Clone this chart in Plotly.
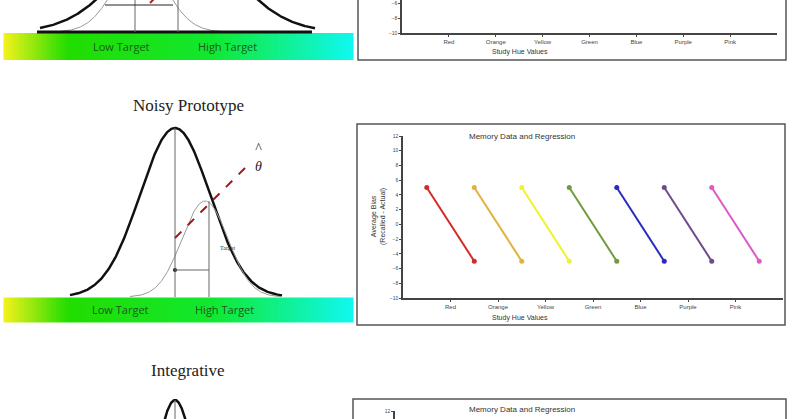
import numpy as np
import plotly.graph_objects as go

hues = ["Red", "Orange", "Yellow", "Green", "Blue", "Purple", "Pink"]
hue_pos = [1, 2, 3, 4, 5, 6, 7]
bias_low = [5, 5, 5, 5, 5, 5, 5]      # bias at left end of each regression line
bias_high = [-5, -5, -5, -5, -5, -5, -5]  # bias at right end
line_colors = ["#d42a2a", "#e3b23c", "#f2f22a", "#6f9d3c", "#2b2bbf", "#6b4c8c", "#e058c8"]
ytick_vals = [-10, -8, -6, -4, -2, 0, 2, 4, 6, 8, 10, 12]

W, H = 800, 419
FONT = "Liberation Sans, Arial"
fig = go.Figure()

def px_x(x): return x / W
def px_y(y): return 1 - y / H

def gauss(xs, c, s, base, peak):
    return base - peak * np.exp(-(xs - c) ** 2 / (2 * s ** 2))

grad_cs = [[0, "#f2f21a"], [0.18, "#22dd00"], [0.6, "#10e830"], [1, "#10f8f0"]]
for (y0, y1) in [(33, 60), (297, 323)]:
    gx = np.linspace(5, 352, 120)
    fig.add_trace(go.Heatmap(x=gx, y=[y0 + 6.75, y1 - 6.75], z=[gx, gx], colorscale=grad_cs,
                             showscale=False, hoverinfo="skip", xaxis="x3", yaxis="y3"))

xs = np.linspace(40, 315, 400)
fig.add_trace(go.Scatter(x=xs, y=gauss(xs, 177, 54, 32, 99), mode="lines",
                         line=dict(color="#111", width=2.5), xaxis="x3", yaxis="y3", hoverinfo="skip"))
xs2 = np.linspace(60, 240, 300)
fig.add_trace(go.Scatter(x=xs2, y=gauss(xs2, 140, 26, 32, 70), mode="lines",
                         line=dict(color="#999", width=1), xaxis="x3", yaxis="y3", hoverinfo="skip"))
xs = np.linspace(70, 282, 400)
fig.add_trace(go.Scatter(x=xs, y=gauss(xs, 175, 35, 297, 169), mode="lines",
                         line=dict(color="#111", width=2.5), xaxis="x3", yaxis="y3", hoverinfo="skip"))
xs2 = np.linspace(130, 282, 300)
fig.add_trace(go.Scatter(x=xs2, y=gauss(xs2, 205, 23, 297, 96), mode="lines",
                         line=dict(color="#999", width=1), xaxis="x3", yaxis="y3", hoverinfo="skip"))
xs = np.linspace(150, 200, 200)
fig.add_trace(go.Scatter(x=xs, y=gauss(xs, 175, 16, 500, 100), mode="lines",
                         line=dict(color="#111", width=2.5), xaxis="x3", yaxis="y3", hoverinfo="skip"))
fig.add_trace(go.Scatter(x=[175], y=[270], mode="markers", marker=dict(color="#111", size=4),
                         xaxis="x3", yaxis="y3", hoverinfo="skip"))

shapes = []
def pline(x0, y0, x1, y1, color="#666", width=1, dash=None):
    shapes.append(dict(type="line", xref="x3", yref="y3", x0=x0, y0=y0, x1=x1, y1=y1,
                       line=dict(color=color, width=width, dash=dash)))

pline(37, 32, 312, 32, "#111", 3)
pline(135, 0, 135, 32); pline(178, 0, 178, 32)
pline(105, 5, 173, 5, "#222", 1)
pline(150, 3, 155, -2, "#b02020", 2, "dash")
pline(175, 128, 175, 297); pline(209, 201, 209, 297); pline(175, 270, 209, 270)
pline(175, 238, 245, 168, "#a01818", 2, "dash")
pline(175, 400, 175, 419)

for (x0, y0, x1, y1) in [(358, -5, 786, 60), (357, 124, 785, 325), (353, 399, 786, 430)]:
    shapes.append(dict(type="rect", xref="paper", yref="paper", x0=px_x(x0), x1=px_x(x1),
                       y0=px_y(y1), y1=px_y(y0), line=dict(color="#555", width=1.5),
                       fillcolor="white", layer="below"))

for i, h in enumerate(hues):
    fig.add_trace(go.Scatter(x=[hue_pos[i] - 0.5, hue_pos[i] + 0.5], y=[bias_low[i], bias_high[i]],
                             mode="lines+markers", line=dict(color=line_colors[i], width=2),
                             marker=dict(color=line_colors[i], size=5), name=h,
                             xaxis="x", yaxis="y", showlegend=False))
fig.add_trace(go.Scatter(x=[0], y=[-20], mode="markers", xaxis="x2", yaxis="y2", showlegend=False))
fig.add_trace(go.Scatter(x=[0], y=[20], mode="markers", xaxis="x4", yaxis="y4", showlegend=False))

tickf = dict(size=6, color="#444", family=FONT)
def xax(domain, anchor, show_labels=True):
    return dict(domain=domain, range=[0, 8], tickvals=hue_pos, ticktext=hues,
                showticklabels=show_labels, showline=True, linecolor="#444", linewidth=1.5,
                ticks="outside", ticklen=2, tickcolor="#444", showgrid=False, zeroline=False,
                tickfont=tickf, fixedrange=True, anchor=anchor, automargin=False)
def yax(domain, rng, anchor):
    return dict(domain=domain, range=rng, tickvals=ytick_vals, showline=True, linecolor="#444",
                linewidth=1.5, ticks="outside", ticklen=2, tickcolor="#444", showgrid=False,
                zeroline=False, tickfont=dict(size=5, color="#444", family=FONT), anchor=anchor,
                automargin=False)

ann = []
def txt(x, y, s, size, color="#333", family=FONT, **kw):
    ann.append(dict(x=px_x(x), y=px_y(y), xref="paper", yref="paper", text=s, showarrow=False,
                    xanchor="center", yanchor="middle",
                    font=dict(size=size, color=color, family=family), **kw))

txt(522, 136, "Memory Data and Regression", 8)
txt(520, 318, "Study Hue Values", 7)
txt(378, 217, "Average Bias<br>(Recalled - Actual)", 7, textangle=-90)
txt(520, 52, "Study Hue Values", 7)
txt(522, 409, "Memory Data and Regression", 8)
green_txt = "#1a5a1a"
txt(121, 46, "Low Target", 11, green_txt, "Open Sans, Arial")
txt(228, 46, "High Target", 11, green_txt, "Open Sans, Arial")
txt(120, 309, "Low Target", 11, green_txt, "Open Sans, Arial")
txt(224, 309, "High Target", 11, green_txt, "Open Sans, Arial")
txt(188, 106, "Noisy Prototype", 17, "#222", "Liberation Serif, Times New Roman")
txt(188, 370, "Integrative", 17, "#222", "Liberation Serif, Times New Roman")
txt(227, 248, "Target", 6, "#333", "Liberation Serif")
txt(258, 157, "^<br><i>θ</i>", 14, "#222", "Liberation Serif")

fig.update_layout(
    width=W, height=H, margin=dict(l=0, r=0, t=0, b=0, autoexpand=False),
    paper_bgcolor="white", plot_bgcolor="rgba(0,0,0,0)", showlegend=False,
    shapes=shapes, annotations=ann,
    xaxis=xax([px_x(403), px_x(783)], "y"),
    yaxis=yax([px_y(298), px_y(136)], [-10, 12], "x"),
    xaxis2=xax([px_x(402), px_x(777)], "y2"),
    yaxis2=yax([px_y(33), 1.0], [-10, -10 + 33 / 7.4], "x2"),
    xaxis4=dict(xax([px_x(395), px_x(780)], "y4", False), showline=False, ticks=""),
    yaxis4=yax([0, px_y(411)], [12 - 8 / 7.4, 12], "x4"),
    xaxis3=dict(domain=[0, 1], range=[0, W], visible=False, fixedrange=True, anchor="y3"),
    yaxis3=dict(domain=[0, 1], range=[H, 0], visible=False, fixedrange=True, anchor="x3"),
)
fig.write_html("out.html", config={"displayModeBar": False},
               post_script="document.body.style.margin='0';document.body.style.overflow='hidden';")
